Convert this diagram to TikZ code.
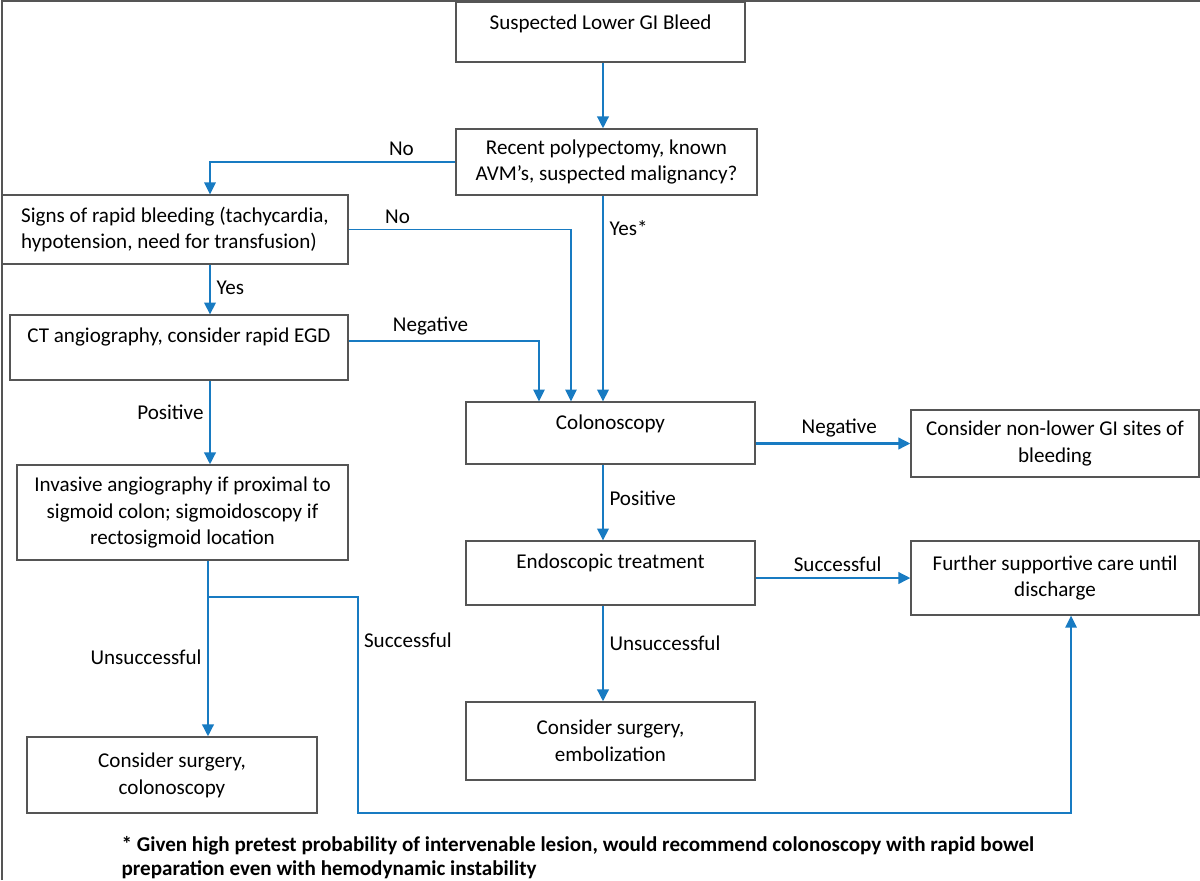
\documentclass[tikz,border=0pt]{standalone}
\usepackage{fontspec}
\setmainfont{Carlito}
\usetikzlibrary{arrows.meta, positioning, calc}

\definecolor{flowblue}{RGB}{24,123,194}
\definecolor{boxgray}{RGB}{85,85,85}

\begin{document}
\begin{tikzpicture}[
    x=0.02cm, y=-0.02cm,
    font=\fontsize{12}{15.3}\selectfont,
    stepbox/.style={rectangle, draw=boxgray, line width=0.75pt, align=center, inner xsep=4pt, inner ysep=3pt},
    onebox/.style={stepbox, text height=12.5pt, text depth=#1},
    arrow/.style={->, >={Triangle[length=6.8pt, width=6.5pt]}, draw=flowblue, line width=1.4pt},
    thinarrow/.style={arrow, line width=0.9pt},
    lbl/.style={inner sep=3pt}
]
\useasboundingbox (0,0) rectangle (1200,880);

% frame
\draw[boxgray, line width=0.8pt] (2,880) -- (2,1) -- (1200,1);

% boxes
\node[onebox=15.5pt, minimum width=5.78cm] (start) at (600.5,32) {Suspected Lower GI Bleed};
\node[stepbox, minimum width=6.02cm, minimum height=1.32cm] (q1) at (606.5,162) {Recent polypectomy, known\\AVM’s, suspected malignancy?};
\node[stepbox, align=left, minimum width=6.92cm, minimum height=1.38cm] (rapid) at (175,229.5) {Signs of rapid bleeding (tachycardia,\\hypotension, need for transfusion)};
\node[onebox=18.35pt, minimum width=6.76cm] (ct) at (179,347.5) {CT angiography, consider rapid EGD};
\node[stepbox, minimum width=6.62cm, minimum height=1.9cm] (inv) at (182.5,512.5) {Invasive angiography if proximal to\\sigmoid colon; sigmoidoscopy if\\rectosigmoid location};
\node[stepbox, minimum width=5.8cm, minimum height=1.52cm] (surgcol) at (172,775) {Consider surgery,\\colonoscopy};
\node[onebox=16.65pt, minimum width=5.78cm] (colo) at (610.5,433) {Colonoscopy};
\node[stepbox, minimum width=5.76cm, minimum height=1.34cm] (nonlower) at (1055,443.5) {Consider non-lower GI sites of\\bleeding};
\node[onebox=17.8pt, minimum width=5.78cm] (endo) at (610.5,573) {Endoscopic treatment};
\node[stepbox, minimum width=5.76cm, minimum height=1.48cm] (further) at (1055,578) {Further supportive care until\\discharge};
\node[stepbox, minimum width=5.78cm, minimum height=1.56cm] (surgemb) at (610.5,741) {Consider surgery,\\embolization};

% footnote
\node[anchor=north west, align=left, inner sep=3pt, font=\fontsize{12}{13.6}\selectfont\bfseries] (note) at (116,831) {* Given high pretest probability of intervenable lesion, would recommend colonoscopy with rapid bowel\\preparation even with hemodynamic instability};

% connectors
\coordinate (lspine) at (210,0);
\coordinate (mspine) at (603,0);
\coordinate (branch) at (208,597);

\draw[arrow] (start.south -| mspine) -- (mspine |- q1.north);
\draw[thinarrow] (q1.west) -| node[lbl, above, pos=0.11] {No} (lspine |- rapid.north);
\draw[arrow] (mspine |- q1.south) -- node[lbl, right, pos=0.16] {Yes*} (mspine |- colo.north);
\draw[thinarrow] (rapid.east) -| node[lbl, above, pos=0.11] {No} ([xshift=-0.79cm]colo.north);
\draw[arrow] (lspine |- rapid.south) -- node[lbl, right, pos=0.47] {Yes} (lspine |- ct.north);
\draw[thinarrow] ([yshift=0.13cm]ct.east) -| node[lbl, above, pos=0.215] {Negative} ([xshift=-1.43cm]colo.north);
\draw[arrow] (lspine |- ct.south) -- node[lbl, left, pos=0.38] {Positive} (lspine |- inv.north);
\draw[arrow] (branch |- inv.south) -- node[lbl, left, pos=0.55] {Unsuccessful} (branch |- surgcol.north);
\draw[thinarrow] (branch) -| node[lbl, right, pos=0.6] {Successful} (358,813) -| ([xshift=0.32cm]further.south);
\draw[arrow] (colo.east |- nonlower.west) -- node[lbl, above, pos=0.54] {Negative} (nonlower.west);
\draw[arrow] (mspine |- colo.south) -- node[lbl, right, pos=0.45] {Positive} (mspine |- endo.north);
\draw[arrow] (endo.east |- further.west) -- node[lbl, above, pos=0.53] {Successful} (further.west);
\draw[arrow] (mspine |- endo.south) -- node[lbl, right, pos=0.39] {Unsuccessful} (mspine |- surgemb.north);

\end{tikzpicture}
\end{document}
